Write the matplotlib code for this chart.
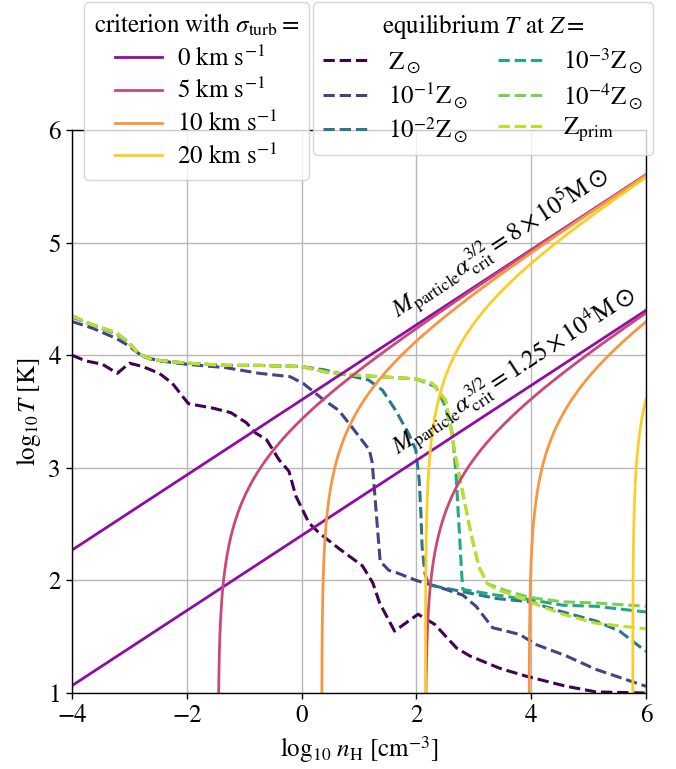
import numpy as np
import matplotlib
matplotlib.use("Agg")
import matplotlib.pyplot as plt

plt.rcParams['font.family'] = ['STIXGeneral', 'DejaVu Serif']
plt.rcParams['mathtext.fontset'] = 'stix'
plt.rcParams['axes.unicode_minus'] = True

sigma_turb = [0, 5, 10, 20]                     # km/s
sigma_labels = ["0 km s$^{-1}$", "5 km s$^{-1}$", "10 km s$^{-1}$", "20 km s$^{-1}$"]
sigma_cmap_pos = [0.3, 0.5, 0.75, 0.9]
particle_masses = [8e5, 1.25e4]                 # M_particle alpha_crit^{3/2} in Msun
mass_texts = [r"$M_{\rm particle}\alpha_{\rm crit}^{3/2}=8\times10^5{\rm M}\odot$",
              r"$M_{\rm particle}\alpha_{\rm crit}^{3/2}=1.25\times10^4{\rm M}\odot$"]
logT_at_n1_ref = 3.603      # log10 T at n_H = 1 cm^-3 for the 8e5 Msun, sigma=0 line
T_per_sigma2 = 52.5         # K per (km/s)^2 turbulent contribution

# ---------------- equilibrium temperature curves -------------------------------------
z_labels = [r"$\rm Z_\odot$", r"$10^{-1}\rm Z_\odot$", r"$10^{-2}\rm Z_\odot$",
            r"$10^{-3}\rm Z_\odot$", r"$10^{-4}\rm Z_\odot$", r"$\rm Z_{prim}$"]
z_cmap_pos = [0.0, 0.2, 0.4, 0.6, 0.8, 0.9]

zsun_logn = [-4.0, -3.76, -3.47, -3.21, -3.0, -2.77, -2.48, -2.25, -2.05, -1.97, -1.54, -1.23,
             -0.96, -0.80, -0.61, -0.39, -0.22, -0.10, 0.13, 0.31, 0.66, 1.06, 1.24, 1.36, 1.62,
             2.03, 2.32, 2.70, 2.93, 3.45, 3.91, 4.61, 5.13, 6.0]
zsun_logT = [4.00, 3.95, 3.92, 3.84, 3.93, 3.90, 3.84, 3.75, 3.62, 3.57, 3.53, 3.49,
             3.40, 3.31, 3.25, 3.07, 2.97, 2.75, 2.51, 2.42, 2.28, 2.13, 1.98, 1.80, 1.55,
             1.70, 1.61, 1.40, 1.33, 1.22, 1.15, 1.06, 1.01, 1.00]

z1_logn = [-4.0, -3.64, -3.23, -3.03, -2.77, -2.48, -2.0, -1.32, -0.74, -0.2, 0.03, 0.37, 0.65,
           0.88, 1.18, 1.23, 1.27, 1.32, 1.37, 1.52, 1.65, 2.0, 2.40, 2.81, 3.04, 3.33, 3.57,
           3.80, 4.09, 4.61, 5.13, 5.65, 6.0]
z1_logT = [4.30, 4.24, 4.15, 4.09, 3.99, 3.95, 3.92, 3.89, 3.84, 3.81, 3.75, 3.61, 3.51,
           3.36, 3.16, 3.05, 2.80, 2.48, 2.17, 2.09, 2.07, 2.00, 1.94, 1.87, 1.77, 1.58, 1.55,
           1.52, 1.43, 1.33, 1.21, 1.12, 1.06]

z2_logn = [-4.0, -3.64, -3.23, -3.03, -2.83, -2.6, -2.0, -1.32, -0.74, 0.0, 0.4, 0.65, 1.17,
           1.41, 1.64, 1.87, 1.99, 2.05, 2.08, 2.10, 2.15, 2.22, 2.81, 3.39, 3.97, 4.55, 5.13,
           5.54, 6.0]
z2_logT = [4.34, 4.27, 4.19, 4.12, 4.01, 3.96, 3.93, 3.91, 3.91, 3.90, 3.87, 3.84, 3.78,
           3.69, 3.51, 3.30, 3.16, 2.89, 2.59, 2.30, 2.06, 1.96, 1.90, 1.84, 1.81, 1.72, 1.64,
           1.55, 1.37]

z3_logn = [-4.0, -3.64, -3.23, -3.03, -2.83, -2.6, -2.0, -1.32, -0.74, 0.0, 0.44, 1.02, 2.0,
           2.34, 2.51, 2.63, 2.69, 2.74, 2.79, 2.81, 3.39, 3.97, 4.55, 5.13, 6.0]
z3_logT = [4.35, 4.27, 4.20, 4.12, 4.01, 3.96, 3.93, 3.91, 3.91, 3.90, 3.85, 3.82, 3.79,
           3.72, 3.54, 3.30, 2.95, 2.51, 2.06, 1.92, 1.87, 1.83, 1.78, 1.77, 1.72]

z4_logn = [-4.0, -3.64, -3.23, -3.03, -2.83, -2.6, -2.0, -1.32, -0.74, 0.0, 0.44, 1.02, 2.0,
           2.28, 2.51, 2.60, 2.66, 2.80, 2.95, 3.09, 3.24, 3.56, 3.97, 4.55, 5.13, 6.0]
z4_logT = [4.35, 4.27, 4.20, 4.12, 4.01, 3.96, 3.93, 3.91, 3.91, 3.90, 3.85, 3.82, 3.79,
           3.75, 3.60, 3.36, 3.16, 2.80, 2.42, 2.12, 1.97, 1.91, 1.85, 1.81, 1.80, 1.77]

zp_logn = [-4.0, -3.64, -3.23, -3.03, -2.83, -2.6, -2.0, -1.32, -0.74, 0.0, 0.44, 1.02, 2.0,
           2.28, 2.51, 2.60, 2.66, 2.80, 2.95, 3.09, 3.24, 3.40, 3.68, 3.97, 4.55, 5.13, 6.0]
zp_logT = [4.35, 4.27, 4.20, 4.12, 4.01, 3.96, 3.93, 3.91, 3.91, 3.90, 3.85, 3.82, 3.79,
           3.75, 3.60, 3.36, 3.16, 2.80, 2.42, 2.12, 1.97, 1.92, 1.87, 1.81, 1.70, 1.62, 1.57]

z_curves = [(zsun_logn, zsun_logT), (z1_logn, z1_logT), (z2_logn, z2_logT),
            (z3_logn, z3_logT), (z4_logn, z4_logT), (zp_logn, zp_logT)]

# ---------------------------------------------------------------------------------------
FS = 18
fig = plt.figure(figsize=(6.76, 7.69), dpi=100)
ax = fig.add_axes([0.1065, 0.0988, 0.849, 0.732])

z_colors = plt.cm.viridis(z_cmap_pos)
z_handles = []
for (xn, yT), c, lab in zip(z_curves, z_colors, z_labels):
    h, = ax.plot(xn, yT, ls='--', color=c, lw=2.2, label=lab)
    z_handles.append(h)

logn = np.linspace(-4, 6, 200001)
s_colors = plt.cm.plasma(sigma_cmap_pos)
s_handles = []
for s, c, lab in zip(sigma_turb, s_colors, sigma_labels):
    for j, M in enumerate(particle_masses):
        T_line = 10 ** (logT_at_n1_ref + (2.0 / 3.0) * np.log10(M / particle_masses[0]) + logn / 3.0)
        T = T_line - T_per_sigma2 * s ** 2
        with np.errstate(invalid='ignore', divide='ignore'):
            logT = np.where(T > 0, np.log10(np.where(T > 0, T, 1.0)), np.nan)
        h, = ax.plot(logn, logT, color=c, lw=2)
        if j == 0:
            s_handles.append(h)

ang = np.degrees(np.arctan(1.0 / 3.0))
ax.text(1.68, 4.33, mass_texts[0], rotation=ang, transform_rotates_text=True,
        rotation_mode='anchor', ha='left', va='baseline', fontsize=FS)
ax.text(1.68, 3.11, mass_texts[1], rotation=ang, transform_rotates_text=True,
        rotation_mode='anchor', ha='left', va='baseline', fontsize=FS)

ax.set_xlim(-4, 6)
ax.set_ylim(1, 6)
ax.set_xticks([-4, -2, 0, 2, 4, 6])
ax.set_yticks([1, 2, 3, 4, 5, 6])
ax.grid(True, color='#b8b8b8', lw=1.0)
ax.set_axisbelow(True)
ax.tick_params(labelsize=FS, length=4.5, width=1.0)
for sp in ax.spines.values():
    sp.set_linewidth(1.0)
ax.set_xlabel(r"$\log_{10}\, n_{\rm H}\ [{\rm cm}^{-3}]$", fontsize=FS)
ax.set_ylabel(r"$\log_{10} T\ [{\rm K}]$", fontsize=FS)

leg1 = fig.legend(s_handles, sigma_labels, loc='upper left', bbox_to_anchor=(0.124, 0.997),
                  borderaxespad=0, fontsize=FS, title=r"criterion with $\sigma_{\rm turb}=$",
                  title_fontsize=FS, labelspacing=0.3, handlelength=1.9, handletextpad=0.6)
leg2 = fig.legend(z_handles, z_labels, loc='upper right', bbox_to_anchor=(0.966, 0.997),
                  borderaxespad=0, fontsize=FS, ncol=2, title=r"equilibrium $T$ at $Z=$",
                  title_fontsize=FS, labelspacing=0.2, handlelength=1.8, columnspacing=1.2)

fig.savefig("out.png", dpi=100)
